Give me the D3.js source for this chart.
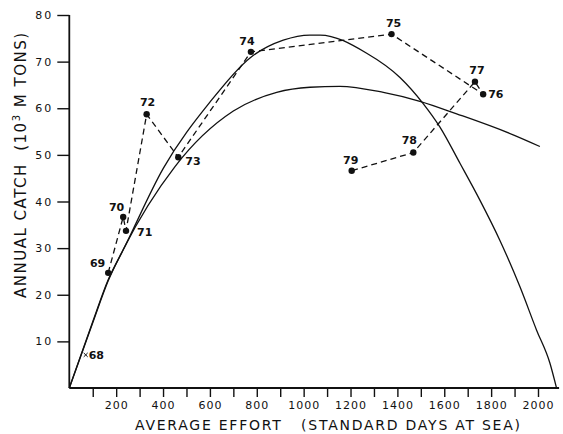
<!DOCTYPE html>
<html>
<head>
<meta charset="utf-8">
<script src="https://cdn.jsdelivr.net/npm/d3@7"></script>
<style>
  body { margin: 0; background: #fff; }
  text { font-family: 'DejaVu Sans', sans-serif; fill: #111; }
</style>
</head>
<body>
<div id="chart"></div>
<script>
// observed catch per year (effort in standard days, catch in 10^3 M tons)
var years = ['69', '70', '71', '72', '73', '74', '75', '76', '77', '78', '79'];
var effort = [166, 230, 242, 330, 465, 775, 1375, 1766, 1731, 1468, 1205];
var catchVal = [24.7, 36.7, 33.7, 58.7, 49.5, 72.1, 75.9, 63.0, 65.7, 50.5, 46.6];

// 1968 shown as a cross only
var pt68 = {year: '68', effort: 70, catch: 7.1};

// schaefer curve
var schaeferEffort = [0, 100, 166, 230, 401, 600, 771, 913, 1027, 1070, 1269, 1411, 1510, 1581, 1667, 1752, 1837, 1923, 1994, 2051, 2079];
var schaeferCatch = [0, 14.2, 23.2, 29.6, 47.1, 61.3, 70.8, 74.6, 75.7, 75.7, 71.8, 66.6, 61.0, 56.0, 48.2, 40.3, 31.7, 21.7, 12.4, 5.3, 0];

// fox curve
var foxEffort = [0, 100, 166, 230, 451, 700, 885, 1027, 1154, 1340, 1496, 1653, 1894, 2008];
var foxCatch = [0, 14.0, 23.0, 29.7, 47.5, 59.4, 63.4, 64.5, 64.7, 63.4, 61.5, 58.8, 54.3, 51.8];

var xTicks = [100, 200, 300, 400, 500, 600, 700, 800, 900, 1000, 1100, 1200, 1300, 1400, 1500, 1600, 1700, 1800, 1900, 2000];
var yTicks = [10, 20, 30, 40, 50, 60, 70, 80];

// label offsets for each year (dx, dy, anchor)
var labelPos = {
    '69': [-3, -6, 'end'], '70': [1, -6, 'end'], '71': [11, 5, 'start'],
    '72': [1, -8, 'middle'], '73': [7, 8, 'start'], '74': [-4, -7, 'middle'],
    '75': [2, -7, 'middle'], '76': [5, 4, 'start'], '77': [2, -8, 'middle'],
    '78': [-4, -9, 'middle'], '79': [-1, -7, 'middle']
};

var width = 563, height = 434;

var svg = d3.select('#chart')
    .append('svg')
    .attr('width', width)
    .attr('height', height);

var x = d3.scaleLinear()
    .domain([0, 2000])
    .range([69.3, 538]);

var y = d3.scaleLinear()
    .domain([0, 80])
    .range([388, 15]);

// x axis
var xAxis = svg.append('g')
    .attr('transform', 'translate(0,' + y(0) + ')')
    .call(d3.axisBottom(x).tickValues(xTicks).tickSize(9).tickPadding(4)
        .tickFormat(d => d % 200 === 0 ? d : ''))
    .call(g => g.select('.domain').remove());
xAxis.selectAll('line').attr('stroke', '#111').attr('stroke-width', 1.4);
xAxis.selectAll('text').style('font-size', '11px').style('letter-spacing', '1px').attr('fill', '#111');
svg.append('line')
    .attr('x1', x(0)).attr('x2', x(2090))
    .attr('y1', y(0)).attr('y2', y(0))
    .attr('stroke', '#111').attr('stroke-width', 1.8);

// y axis
var yAxis = svg.append('g')
    .attr('transform', 'translate(' + x(0) + ',0)')
    .call(d3.axisLeft(y).tickValues(yTicks).tickSize(12).tickPadding(4))
    .call(g => g.select('.domain').remove());
yAxis.selectAll('line').attr('stroke', '#111').attr('stroke-width', 1.4);
yAxis.selectAll('text').style('font-size', '11px').style('letter-spacing', '2px').attr('fill', '#111');
svg.append('line')
    .attr('x1', x(0)).attr('x2', x(0))
    .attr('y1', y(0)).attr('y2', y(80))
    .attr('stroke', '#111').attr('stroke-width', 1.8);

// axis titles
svg.append('text')
    .attr('x', 135).attr('y', 430)
    .attr('textLength', 385).attr('lengthAdjust', 'spacing')
    .style('font-size', '14px').style('white-space', 'pre')
    .text('AVERAGE EFFORT   (STANDARD DAYS AT SEA)');

var yTitle = svg.append('text')
    .attr('transform', 'translate(26,298) rotate(-90)')
    .style('font-size', '15px').style('letter-spacing', '1.5px').style('white-space', 'pre');
yTitle.append('tspan').text('ANNUAL CATCH  (10');
yTitle.append('tspan').attr('dy', -6).style('font-size', '10px').text('3');
yTitle.append('tspan').attr('dy', 6).text(' M TONS)');

// model curves
var line = d3.line()
    .x(d => x(d[0]))
    .y(d => y(d[1]))
    .curve(d3.curveMonotoneX);

svg.append('path')
    .datum(d3.zip(schaeferEffort, schaeferCatch))
    .attr('d', line)
    .attr('fill', 'none').attr('stroke', '#111').attr('stroke-width', 1.3);

svg.append('path')
    .datum(d3.zip(foxEffort, foxCatch))
    .attr('d', line)
    .attr('fill', 'none').attr('stroke', '#111').attr('stroke-width', 1.3);

// yearly trajectory
var pts = years.map((yr, i) => ({year: yr, effort: effort[i], catch: catchVal[i]}));

svg.append('path')
    .datum(pts)
    .attr('d', d3.line().x(d => x(d.effort)).y(d => y(d.catch)))
    .attr('fill', 'none').attr('stroke', '#111').attr('stroke-width', 1.3)
    .attr('stroke-dasharray', '6,4');

svg.selectAll('circle.pt')
    .data(pts)
    .join('circle')
    .attr('class', 'pt')
    .attr('cx', d => x(d.effort))
    .attr('cy', d => y(d.catch))
    .attr('r', 3.2)
    .attr('fill', '#111');

svg.selectAll('text.yr')
    .data(pts)
    .join('text')
    .attr('class', 'yr')
    .attr('x', d => x(d.effort) + labelPos[d.year][0])
    .attr('y', d => y(d.catch) + labelPos[d.year][1])
    .attr('text-anchor', d => labelPos[d.year][2])
    .style('font-size', '11px').style('font-weight', 'bold')
    .text(d => d.year);

// 1968 cross
svg.append('path')
    .attr('d', d3.symbol().type(d3.symbolTimes).size(12)())
    .attr('transform', 'translate(' + x(pt68.effort) + ',' + y(pt68.catch) + ')')
    .attr('stroke', '#111').attr('stroke-width', 1).attr('fill', 'none');
svg.append('text')
    .attr('x', x(pt68.effort) + 3).attr('y', y(pt68.catch) + 4)
    .style('font-size', '11px').style('font-weight', 'bold')
    .text(pt68.year);
</script>
</body>
</html>
